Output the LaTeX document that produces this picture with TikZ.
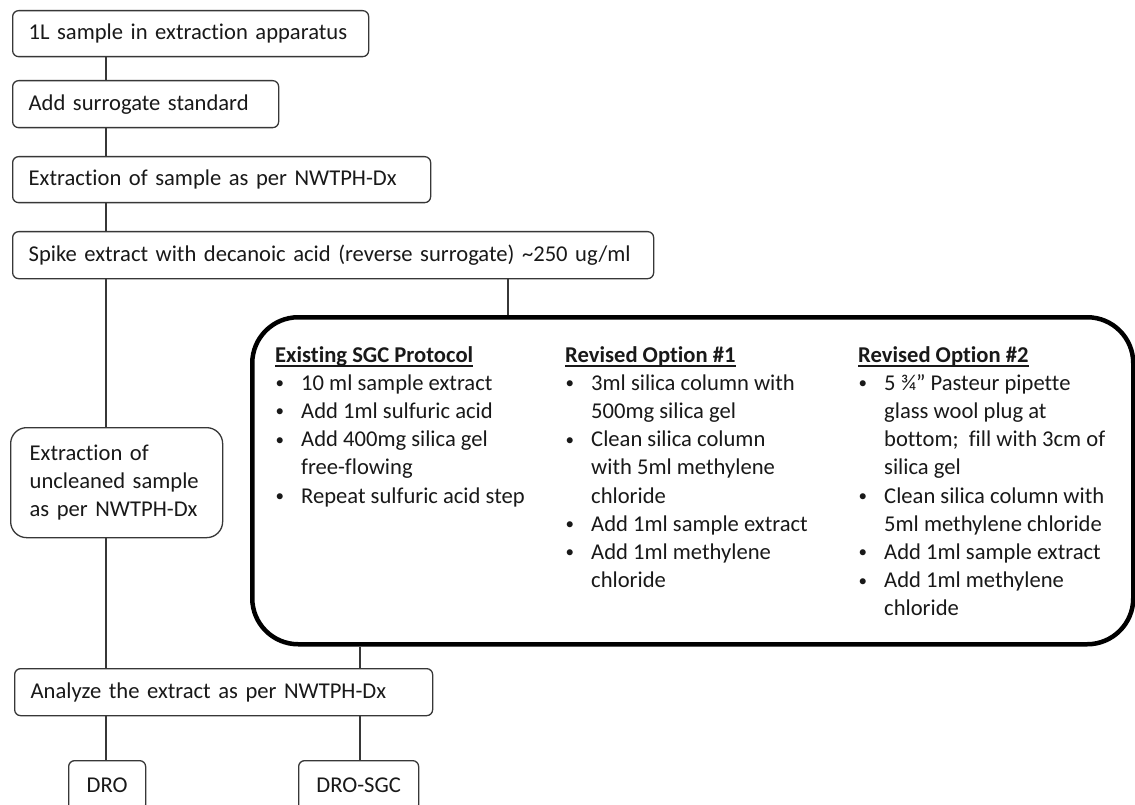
\documentclass[tikz,border=0pt]{standalone}
\usepackage{fontspec}
\setmainfont{Carlito}[Ligatures=NoCommon]
\definecolor{txtc}{RGB}{25,25,25}
\definecolor{linec}{RGB}{55,55,55}
\newcommand\ulhead[1]{\setbox0=\hbox{\bfseries #1}\rlap{\rule[-4.5pt]{\wd0}{1.5pt}}\box0}
\newcommand\bul{\makebox[26pt][l]{\hspace{0.5pt}\raisebox{1.6pt}{\fontsize{17}{17}\selectfont\textbullet}}}
\newcommand\cnt{\hspace*{26pt}}
\begin{document}
\begin{tikzpicture}[x=1pt,y=-1pt,
  txt/.style={font=\fontsize{22.6}{28.3}\selectfont, text=txtc},
  flowbox/.style={txt, draw=linec, line width=1.3pt, rounded corners=6pt, rectangle,
    anchor=north west, inner xsep=16pt, inner ysep=0pt, align=left},
  endbox/.style={txt, draw=linec, line width=1.3pt, rounded corners=6pt, rectangle,
    anchor=north west, inner sep=0pt, align=center},
  link/.style={draw=linec, line width=1.3pt},
  item/.style={txt, anchor=base west, inner sep=0pt}]
\useasboundingbox (0,0) rectangle (1135,805);
\fill[white] (0,0) rectangle (1135,805);
\clip (0,0) rectangle (1135,805);

\coordinate (xl) at (106,0);
\coordinate (xr) at (508,0);
\coordinate (xm) at (360,0);

\node[flowbox, minimum height=46pt, text width=324pt] (b1) at (12,10) {\mbox{1L sample in extraction apparatus}};
\node[flowbox, minimum height=47pt, text width=234pt] (b2) at (12,80) {\mbox{Add surrogate standard}};
\node[flowbox, minimum height=46pt, text width=386pt] (b3) at (12,156) {\mbox{Extraction of sample as per NWTPH-Dx}};
\node[flowbox, minimum height=47pt, text width=609pt] (b4) at (12,231) {\mbox{Spike extract with decanoic acid (reverse surrogate) \textasciitilde250 ug/ml}};

\node[flowbox, inner xsep=19pt, minimum height=110pt, text width=174pt, rounded corners=16pt] (unc) at (10,427)
  {\mbox{Extraction of}\\\mbox{uncleaned sample}\\\mbox{as per NWTPH-Dx}};

\node[draw=black, line width=4.5pt, rounded corners=46pt, rectangle, anchor=north west, inner sep=0pt,
  minimum width=881pt, minimum height=327pt] (big) at (250,315) {};

\node[flowbox, minimum height=47pt, text width=386pt] (ana) at (14,668) {\mbox{Analyze the extract as per NWTPH-Dx}};
\node[endbox, minimum width=77pt, minimum height=50pt] (dro) at (68,760) {DRO};
\node[endbox, minimum width=120pt, minimum height=50pt] (drosgc) at (298,760) {DRO-SGC};

% column texts
\foreach \t [count=\k from 0] in {{\ulhead{Existing SGC Protocol}},
  {\bul 10 ml sample extract}, {\bul Add 1ml sulfuric acid}, {\bul Add 400mg silica gel},
  {\cnt free-flowing}, {\bul Repeat sulfuric acid step}}
  \node[item] (ca\k) at (275,{362+28.2*\k}) {\t};
\foreach \t [count=\k from 0] in {{\ulhead{Revised Option \#1}},
  {\bul 3ml silica column with}, {\cnt 500mg silica gel}, {\bul Clean silica column},
  {\cnt with 5ml methylene}, {\cnt chloride}, {\bul Add 1ml sample extract},
  {\bul Add 1ml methylene}, {\cnt chloride}}
  \node[item] (cb\k) at (565,{362+28.2*\k}) {\t};
\foreach \t [count=\k from 0] in {{\ulhead{Revised Option \#2}},
  {\bul 5 ¾” Pasteur pipette}, {\cnt glass wool plug at}, {\cnt bottom;\ \ fill with 3cm of},
  {\cnt silica gel}, {\bul Clean silica column with}, {\cnt 5ml methylene chloride},
  {\bul Add 1ml sample extract}, {\bul Add 1ml methylene}, {\cnt chloride}}
  \node[item] (cc\k) at (858,{362+28.2*\k}) {\t};

% connectors
\draw[link] (b1.south -| xl) -- (b2.north -| xl);
\draw[link] (b2.south -| xl) -- (b3.north -| xl);
\draw[link] (b3.south -| xl) -- (b4.north -| xl);
\draw[link] (b4.south -| xl) -- (unc.north -| xl);
\draw[link] (b4.south -| xr) -- (big.north -| xr);
\draw[link] (unc.south -| xl) -- (ana.north -| xl);
\draw[link] (big.south -| xm) -- (ana.north -| xm);
\draw[link] (ana.south -| xl) -- (dro.north -| xl);
\draw[link] (ana.south -| xm) -- (drosgc.north -| xm);
\end{tikzpicture}
\end{document}
